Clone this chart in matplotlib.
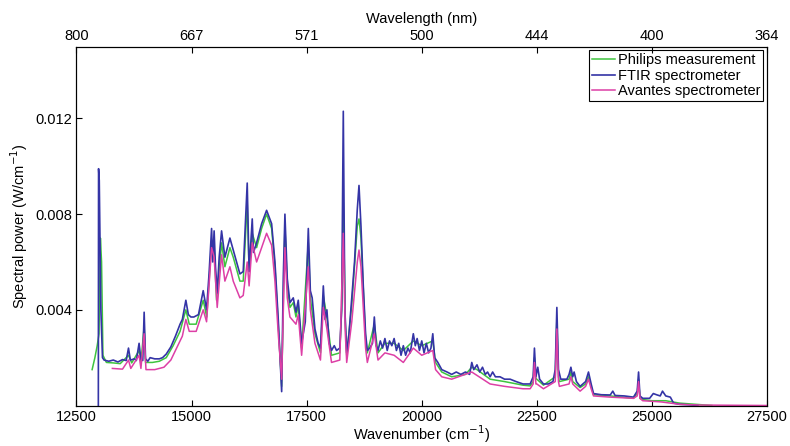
import matplotlib
matplotlib.use("Agg")
import matplotlib.pyplot as plt

plt.rcParams['font.family'] = ['Liberation Sans', 'DejaVu Sans']
plt.rcParams['font.size'] = 10.5

# ---------------- data ----------------
ftir_x = [12975, 12980, 12995, 13030, 13065, 13100, 13200, 13300, 13400, 13500,
          13580, 13630, 13670, 13760, 13800, 13860, 13900, 13940, 13970, 14000,
          14050, 14100, 14200, 14300, 14370, 14450, 14550, 14650, 14750, 14800,
          14876, 14930, 14985, 15050, 15150, 15253, 15326, 15380, 15435, 15460,
          15490, 15520, 15557, 15600, 15652, 15724, 15833, 15905, 16050, 16122,
          16209, 16250, 16318, 16345, 16413, 16522, 16630, 16739, 16811, 16883,
          16957, 16992, 17028, 17079, 17137, 17209, 17268, 17318, 17391, 17470,
          17536, 17580, 17620, 17680, 17750, 17800, 17862, 17900, 17940, 17990,
          18040, 18100, 18150, 18220, 18260, 18296, 18330, 18370, 18420, 18480,
          18540, 18600, 18637, 18680, 18730, 18780, 18818, 18870, 18930, 18970,
          19010, 19050, 19100, 19150, 19200, 19250, 19300, 19350, 19400, 19450,
          19500, 19550, 19600, 19650, 19700, 19750, 19817, 19860, 19900, 19950,
          20000, 20050, 20100, 20150, 20200, 20240, 20280, 20350, 20435, 20550,
          20650, 20750, 20850, 20950, 21040, 21087, 21130, 21200, 21260, 21320,
          21380, 21430, 21485, 21540, 21600, 21700, 21800, 21920, 22050, 22200,
          22355, 22420, 22448, 22480, 22520, 22560, 22644, 22750, 22850, 22900,
          22935, 22970, 23020, 23152, 23200, 23240, 23280, 23310, 23360, 23440,
          23560, 23622, 23680, 23731, 23900, 24095, 24150, 24200, 24400, 24600,
          24680, 24710, 24740, 24800, 24950, 25030, 25100, 25180, 25230, 25300,
          25400, 25470, 25600, 25800, 26000]
ftir_y = [0.0, 0.0099, 0.0094, 0.0040, 0.0020, 0.00190, 0.00185, 0.00190, 0.00182, 0.00192,
          0.00188, 0.0024, 0.00190, 0.00195, 0.00188, 0.0026, 0.00192, 0.00188, 0.0039, 0.00195,
          0.00185, 0.00200, 0.00195, 0.00195, 0.00200, 0.00215, 0.00245, 0.0029, 0.0034, 0.0036,
          0.0044, 0.0038, 0.0037, 0.0037, 0.0038, 0.0048, 0.0040, 0.0055, 0.0074, 0.0060,
          0.0073, 0.0058, 0.0047, 0.0062, 0.0073, 0.0062, 0.0070, 0.0065, 0.0055, 0.0056,
          0.0093, 0.0056, 0.0078, 0.0064, 0.0068, 0.0076, 0.00816, 0.0076, 0.0060, 0.0036,
          0.00058, 0.0053, 0.0080, 0.0053, 0.0043, 0.0045, 0.0039, 0.0044, 0.0026, 0.0035,
          0.0074, 0.0048, 0.0045, 0.0032, 0.0026, 0.0024, 0.0050, 0.0036, 0.0040, 0.0026,
          0.0023, 0.0025, 0.0023, 0.0024, 0.0040, 0.0123, 0.0040, 0.0022, 0.0030, 0.0045,
          0.0060, 0.0082, 0.0092, 0.0075, 0.0050, 0.0030, 0.0023, 0.0024, 0.0026, 0.0037,
          0.0025, 0.0023, 0.0027, 0.0024, 0.0028, 0.0023, 0.0027, 0.0025, 0.0028, 0.0023,
          0.0026, 0.0021, 0.0025, 0.0021, 0.0024, 0.0022, 0.0030, 0.0025, 0.0028, 0.0023,
          0.0027, 0.0022, 0.0026, 0.0022, 0.0024, 0.0030, 0.0020, 0.0018, 0.0015, 0.0014,
          0.0013, 0.0014, 0.0013, 0.0014, 0.0013, 0.0018, 0.0015, 0.0017, 0.0014, 0.0016,
          0.0013, 0.0014, 0.0012, 0.0014, 0.0012, 0.0012, 0.0011, 0.0011, 0.0010, 0.0009,
          0.0009, 0.0012, 0.0024, 0.0012, 0.0016, 0.0011, 0.0009, 0.0009, 0.0010, 0.0015,
          0.0041, 0.0015, 0.0011, 0.0011, 0.0013, 0.0016, 0.0012, 0.0014, 0.0010, 0.0008,
          0.0010, 0.0014, 0.0009, 0.0005, 0.00045, 0.00044, 0.0006, 0.00042, 0.0004, 0.00035,
          0.0006, 0.0014, 0.0004, 0.0003, 0.0003, 0.0005, 0.00045, 0.0004, 0.0006, 0.0004,
          0.00035, 0.0001, 0.00005, 0.00003, 0.0]

philips_x = [12840, 12900, 12950, 12990, 13020, 13045, 13075, 13150, 13300, 13450,
             13630, 13700, 13860, 13900, 13970, 14000, 14150, 14300, 14450, 14600,
             14750, 14876, 14950, 15100, 15253, 15330, 15435, 15490, 15543, 15652,
             15724, 15833, 15905, 16050, 16122, 16209, 16250, 16318, 16413, 16522,
             16630, 16739, 16811, 16883, 16957, 17000, 17028, 17079, 17137, 17209,
             17268, 17318, 17391, 17536, 17580, 17680, 17800, 17862, 17940, 18040,
             18220, 18270, 18296, 18340, 18370, 18480, 18600, 18637, 18680, 18780,
             18818, 18970, 19050, 19200, 19400, 19600, 19817, 20000, 20240, 20300,
             20435, 20650, 20950, 21087, 21200, 21485, 21800, 22200, 22355, 22420,
             22448, 22480, 22500, 22644, 22900, 22935, 22970, 22990, 23200, 23240,
             23280, 23440, 23560, 23622, 23680, 23731, 24095, 24600, 24680, 24710,
             24740, 24800, 25000, 25300, 25600, 26300]
philips_y = [0.0015, 0.0020, 0.0025, 0.0030, 0.0070, 0.0060, 0.0021, 0.00180, 0.00178, 0.00175,
             0.0021, 0.00178, 0.0023, 0.00180, 0.0033, 0.00180, 0.00180, 0.00185, 0.0020, 0.0025,
             0.0031, 0.0040, 0.0034, 0.0034, 0.0044, 0.0037, 0.0068, 0.0066, 0.0044, 0.0068,
             0.0058, 0.0066, 0.0062, 0.0052, 0.0052, 0.0085, 0.0056, 0.0072, 0.0066, 0.0074,
             0.0080, 0.0074, 0.0058, 0.0034, 0.0008, 0.0050, 0.0075, 0.0050, 0.0041, 0.0043,
             0.0037, 0.0042, 0.0024, 0.0068, 0.0045, 0.0030, 0.0022, 0.0046, 0.0037, 0.0021,
             0.0022, 0.0045, 0.0085, 0.0035, 0.0021, 0.0042, 0.0075, 0.0078, 0.0070, 0.0028,
             0.0022, 0.0034, 0.0022, 0.0026, 0.0026, 0.0023, 0.0027, 0.0025, 0.0027, 0.0018,
             0.0014, 0.0012, 0.0013, 0.0016, 0.0015, 0.0011, 0.0010, 0.00085, 0.00082, 0.0010,
             0.0020, 0.0011, 0.0011, 0.00085, 0.0012, 0.0036, 0.0012, 0.0010, 0.0011, 0.0014,
             0.0010, 0.00075, 0.0009, 0.0012, 0.0008, 0.00045, 0.0004, 0.0003, 0.0005, 0.0011,
             0.0003, 0.00025, 0.0002, 0.0002, 0.0001, 0.0]

avantes_x = [13280, 13500, 13630, 13680, 13860, 13900, 13970, 14010, 14200, 14400,
             14550, 14700, 14800, 14876, 14950, 15100, 15253, 15326, 15435, 15490,
             15557, 15652, 15724, 15833, 15905, 16050, 16122, 16209, 16250, 16318,
             16413, 16522, 16630, 16739, 16811, 16883, 16957, 17000, 17028, 17079,
             17137, 17268, 17318, 17391, 17536, 17580, 17680, 17800, 17862, 17940,
             18040, 18220, 18296, 18340, 18370, 18480, 18600, 18637, 18680, 18780,
             18818, 18970, 19050, 19200, 19400, 19600, 19817, 20000, 20240, 20300,
             20435, 20650, 21087, 21485, 21800, 22200, 22355, 22420, 22448, 22480,
             22500, 22644, 22900, 22935, 22970, 22990, 23200, 23240, 23280, 23440,
             23560, 23622, 23680, 23731, 24095, 24600, 24680, 24710, 24740, 24800,
             25200, 25600, 26000, 27500]
avantes_y = [0.00155, 0.00152, 0.0019, 0.00155, 0.0021, 0.00155, 0.0030, 0.00150, 0.00150, 0.00160,
             0.0019, 0.0025, 0.0029, 0.0036, 0.0031, 0.0031, 0.0040, 0.0035, 0.0066, 0.0062,
             0.0041, 0.0063, 0.0052, 0.0058, 0.0052, 0.0045, 0.0046, 0.0060, 0.0050, 0.0068,
             0.0060, 0.0066, 0.0072, 0.0067, 0.0052, 0.0030, 0.0011, 0.0045, 0.0066, 0.0045,
             0.0037, 0.0034, 0.0038, 0.0021, 0.0058, 0.0040, 0.0026, 0.0019, 0.0041, 0.0032,
             0.0018, 0.0019, 0.0072, 0.0030, 0.0018, 0.0035, 0.0060, 0.0065, 0.0058, 0.0024,
             0.0018, 0.0030, 0.0019, 0.0022, 0.0021, 0.0018, 0.0024, 0.0021, 0.0023, 0.0015,
             0.0012, 0.0011, 0.0014, 0.0009, 0.0008, 0.0007, 0.0007, 0.0009, 0.0018, 0.0009,
             0.0009, 0.0007, 0.0010, 0.0032, 0.0010, 0.0008, 0.0009, 0.0012, 0.0009, 0.0006,
             0.0008, 0.0011, 0.0007, 0.0004, 0.00035, 0.0003, 0.0004, 0.0010, 0.0003, 0.0002,
             0.00015, 0.00005, 0.00002, 0.0]

wavenumber_ticks = [12500, 15000, 17500, 20000, 22500, 25000, 27500]
wavelength_labels = ['800', '667', '571', '500', '444', '400', '364']
power_ticks = [0.004, 0.008, 0.012]
power_labels = ['0.004', '0.008', '0.012']
series_names = ['Philips measurement', 'FTIR spectrometer', 'Avantes spectrometer']

# ---------------- plot ----------------
fig = plt.figure(figsize=(7.9, 4.46), dpi=100)
ax = fig.add_axes([0.0968, 0.0908, 0.8741, 0.8045])

ax.plot(philips_x, philips_y, color='#3ec43e', lw=1.1, label=series_names[0])
ax.plot(ftir_x, ftir_y, color='#3434a6', lw=1.2, label=series_names[1])
ax.plot(avantes_x, avantes_y, color='#dd3fa6', lw=1.1, label=series_names[2])

ax.set_xlim(12500, 27500)
ax.set_ylim(0, 0.015)
ax.set_xticks(wavenumber_ticks)
ax.set_xticklabels([str(v) for v in wavenumber_ticks])
ax.set_yticks(power_ticks)
ax.set_yticklabels(power_labels)
ax.tick_params(direction='in', length=4, width=0.8, top=False, right=False, pad=3)
ax.set_xlabel('Wavenumber (cm$^{-1}$)', labelpad=0)
ax.set_ylabel('Spectral power (W/cm$^{-1}$)', labelpad=4)
for s in ax.spines.values():
    s.set_linewidth(0.8)

ax2 = ax.twiny()
ax2.set_xlim(ax.get_xlim())
ax2.set_xticks(wavenumber_ticks)
ax2.set_xticklabels(wavelength_labels)
ax2.tick_params(direction='in', length=4, width=0.8, pad=3)
ax2.set_xlabel('Wavelength (nm)', labelpad=4)

leg = ax.legend(loc='upper right', frameon=True, fancybox=False, edgecolor='black',
                framealpha=1, borderaxespad=0.25, handlelength=1.6, handletextpad=0.2,
                labelspacing=0.1, borderpad=0.2, fontsize=10.5)
leg.get_frame().set_linewidth(0.8)

fig.savefig('out.png', dpi=100)
